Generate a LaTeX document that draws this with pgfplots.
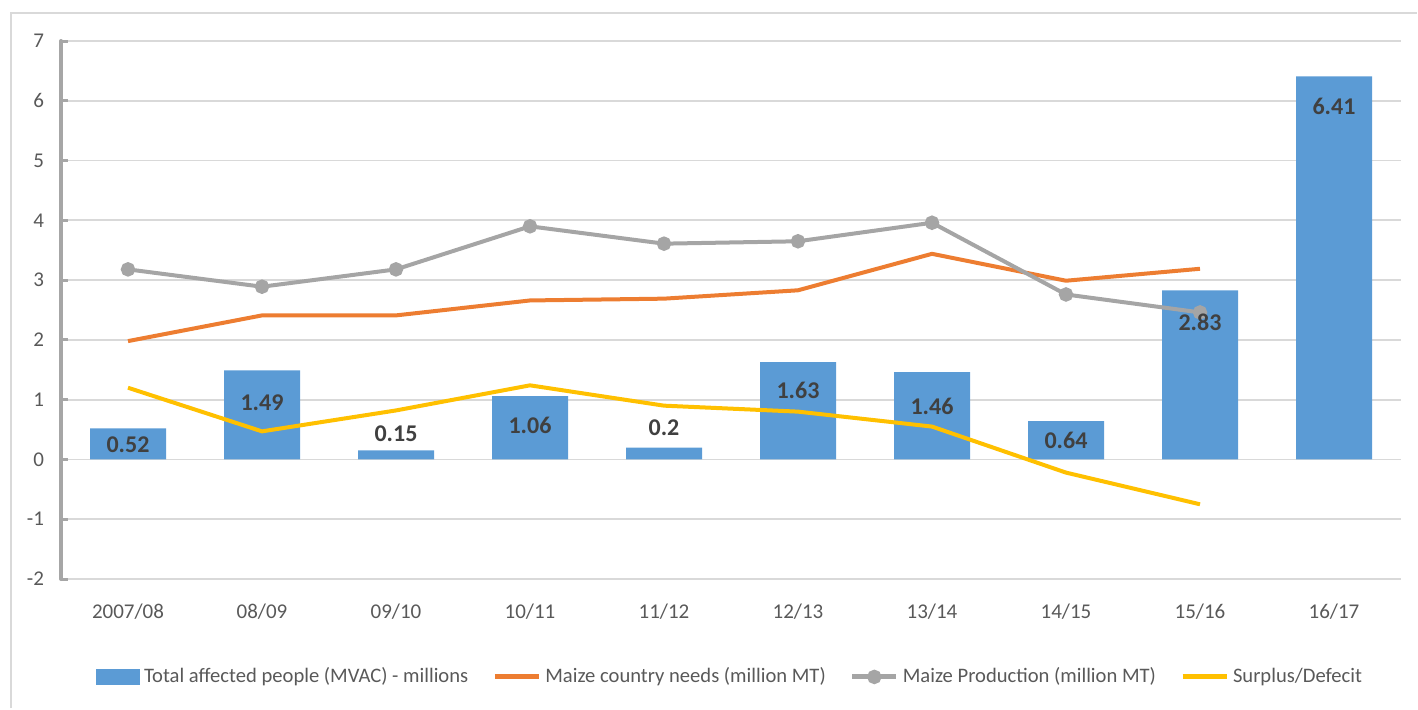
\documentclass[border=0pt]{standalone}
\usepackage{pgfplots}
\pgfplotsset{compat=1.18}
\usepackage{fontspec}
\setmainfont{Carlito}
\definecolor{cblue}{HTML}{5B9BD5}
\definecolor{corange}{HTML}{ED7D31}
\definecolor{cgray}{HTML}{A5A5A5}
\definecolor{cyellow}{HTML}{FFC000}
\definecolor{gridc}{HTML}{D9D9D9}
\definecolor{axc}{HTML}{A6A6A6}
\definecolor{tickc}{HTML}{595959}
\definecolor{labc}{HTML}{404040}
\begin{document}
\begin{tikzpicture}
\path[use as bounding box] (0,0) rectangle (709pt,354.5pt);
\draw[gridc, line width=0.6pt] (5.5pt,0.5pt) -- (5.5pt,348pt) -- (708.5pt,348pt);
\begin{axis}[
  at={(30.5pt,65pt)}, anchor=south west,
  width=670pt, height=269pt, scale only axis,
  xmin=-0.5, xmax=9.5, ymin=-2, ymax=7,
  xtick={0,...,9},
  xticklabels={2007/08,08/09,09/10,10/11,11/12,12/13,13/14,14/15,15/16,16/17},
  ytick={-2,...,7},
  yticklabels={-2,-1,0,1,2,3,4,5,6,7},
  axis x line*=bottom,
  axis y line*=left,
  x axis line style={draw=none},
  y axis line style={axc, line width=2pt, line cap=round, -},
  xtick style={draw=none},
  ytick style={axc, line width=1.5pt},
  tick align=inside,
  major tick length=3.5pt,
  ymajorgrids,
  major grid style={gridc, line width=0.9pt},
  ticklabel style={font=\fontsize{10.5}{12}\selectfont, text=tickc},
  yticklabel style={xshift=-5pt},
  xticklabel style={yshift=-9pt},
  clip=false,
  legend columns=4,
  legend cell align=left,
  legend style={at={(0.5,-0.182)}, anchor=center, draw=none, fill=none,
    font=\fontsize{10.3}{12}\selectfont, text=tickc,
    /tikz/every even column/.append style={column sep=10pt},
    inner sep=0pt},
]
\addplot[ybar, bar width=38pt, bar shift=0pt, fill=cblue, draw=none,
  legend image code/.code={\fill[cblue] (0pt,-3.8pt) rectangle (22pt,3.8pt);}]
  coordinates {(0,0.52) (1,1.49) (2,0.15) (3,1.06) (4,0.2) (5,1.63) (6,1.46) (7,0.64) (8,2.83) (9,6.41)};
\addlegendentry{Total affected people (MVAC) - millions}
\addplot[corange, line width=2pt, mark=none,
  legend image code/.code={\draw[corange, line width=2.5pt] (0pt,0pt) -- (22pt,0pt);}]
  coordinates {(0,1.98) (1,2.41) (2,2.41) (3,2.66) (4,2.69) (5,2.83) (6,3.44) (7,2.99) (8,3.19)};
\addlegendentry{Maize country needs (million MT)}
\addplot[cgray, line width=2pt, mark=*, mark size=2.6pt, mark options={fill=cgray, draw=cgray},
  legend image code/.code={\draw[cgray, line width=2.5pt] (0pt,0pt) -- (22pt,0pt); \fill[cgray] (11pt,0pt) circle (2.6pt);}]
  coordinates {(0,3.18) (1,2.89) (2,3.18) (3,3.90) (4,3.61) (5,3.65) (6,3.96) (7,2.76) (8,2.46)};
\addlegendentry{Maize Production (million MT)}
\addplot[cyellow, line width=2pt, mark=none,
  legend image code/.code={\draw[cyellow, line width=2.5pt] (0pt,0pt) -- (22pt,0pt);}]
  coordinates {(0,1.20) (1,0.47) (2,0.82) (3,1.24) (4,0.90) (5,0.80) (6,0.55) (7,-0.22) (8,-0.75)};
\addlegendentry{Surplus/Defecit}
\addplot[draw=none, mark=none, forget plot,
  nodes near coords, point meta=explicit symbolic,
  nodes near coords style={anchor=center, font=\bfseries\fontsize{12}{14}\selectfont, text=labc}]
  table[meta=lab] {
x y lab
0 0.25 0.52
1 0.95 1.49
2 0.43 0.15
3 0.57 1.06
4 0.53 0.2
5 1.15 1.63
6 0.88 1.46
7 0.32 0.64
8 2.30 2.83
9 5.90 6.41
};
\end{axis}
\end{tikzpicture}
\end{document}
